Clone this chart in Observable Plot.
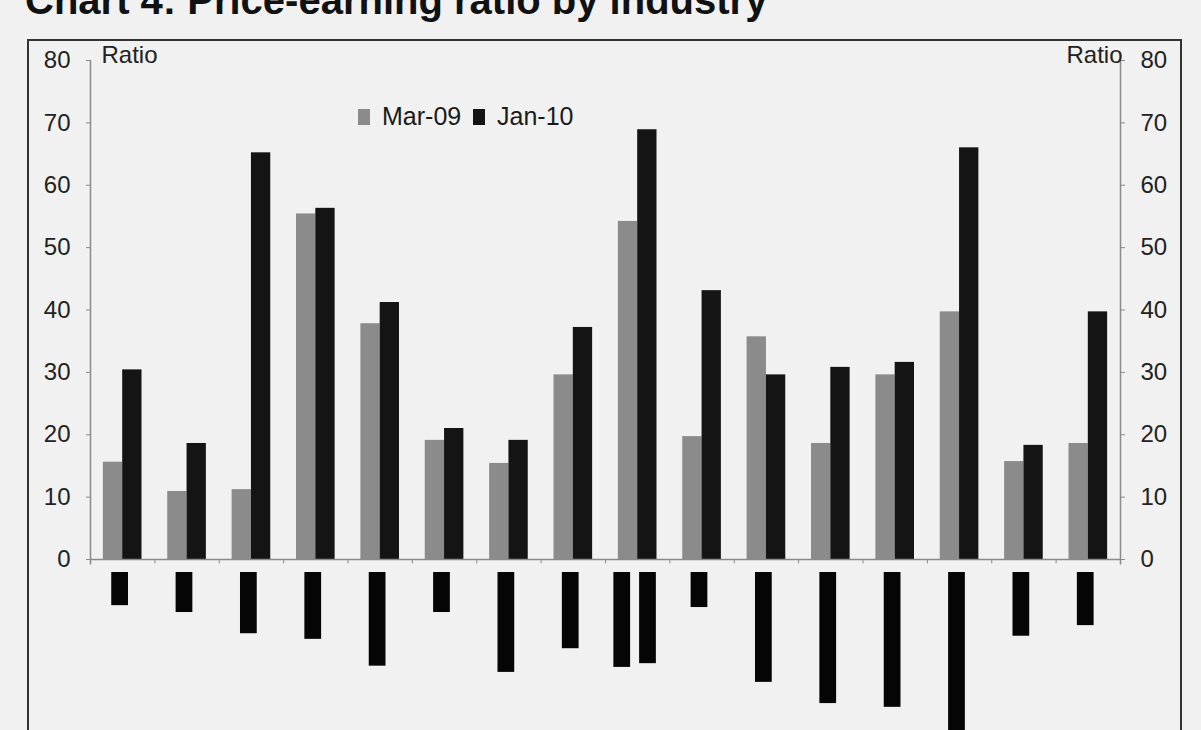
<!DOCTYPE html>
<html>
<head>
<meta charset="utf-8">
<script src="https://cdn.jsdelivr.net/npm/d3@7"></script>
<script src="https://cdn.jsdelivr.net/npm/@observablehq/plot@0.6"></script>
<style>
  html, body { margin: 0; padding: 0; background: #f1f1f1; overflow: hidden; }
  #wrap { position: relative; width: 1201px; height: 730px; overflow: hidden;
          font-family: "Liberation Sans", Arial, sans-serif; color: #1a1a1a; }
  #title { position: absolute; left: 25px; top: -20px; font-size: 40px; line-height: 40px;
           font-weight: bold; white-space: nowrap; color: #111; }
  #box { position: absolute; left: 27px; top: 39px; width: 1151px; height: 720px;
         border: 2.5px solid #333; }
  #chart { position: absolute; left: 0; top: 0; }
  .key { position: absolute; top: 104px; font-size: 25px; line-height: 25px; display: flex; align-items: center; }
  .key i { display: inline-block; width: 12px; height: 16px; margin-right: 12px; }
</style>
</head>
<body>
<div id="wrap">
  <div id="title">Chart 4: Price-earning ratio by industry</div>
  <div id="box"></div>
  <div id="chart"></div>
  <div id="legend"></div>
</div>
<script>
// Industries, left to right
const industry = [1, 2, 3, 4, 5, 6, 7, 8, 9, 10, 11, 12, 13, 14, 15, 16];
// Price-earning ratio per industry
const series = ["Mar-09", "Jan-10"];
const seriesColor = ["#8b8b8b", "#141414"];
const mar09 = [15.6, 10.9, 11.2, 55.4, 37.8, 19.1, 15.4, 29.6, 54.2, 19.7, 35.7, 18.6, 29.6, 39.7, 15.7, 18.6];
const jan10 = [30.4, 18.6, 65.2, 56.3, 41.2, 21.0, 19.1, 37.2, 68.9, 43.1, 29.6, 30.8, 31.6, 66.0, 18.3, 39.7];
// Dark blocks hanging below the axis (one or two per industry), depth in ratio units
const lowerBars = [[7.4], [8.5], [11.9], [12.8], [17.1], [8.5], [18.1], [14.3], [17.3, 16.7], [7.7],
                   [19.7], [23.1], [23.7], [30.0], [12.3], [10.6]];
const yTicks = [0, 10, 20, 30, 40, 50, 60, 70, 80];

const rows = industry.map((k, i) => ({i, mar: mar09[i], jan: jan10[i]}));
const blocks = lowerBars.flatMap((ds, i) =>
  ds.map((depth, j) => ({i, depth, shift: ds.length > 1 ? (j === 0 ? -0.2 : 0.2) : 0})));
const bounds = industry.slice(1).map((k, i) => i + 0.5);

const axisColor = "#8a8a8a";
const textColor = "#222";

const chart = Plot.plot({
  width: 1201,
  height: 730,
  marginLeft: 90,
  marginRight: 81,
  marginTop: 60,
  marginBottom: 0,
  style: {background: "transparent", fontFamily: "'Liberation Sans', Arial, sans-serif", fontSize: "24px", overflow: "visible"},
  x: {type: "linear", domain: [-0.5, industry.length - 0.5], range: [90, 1120], axis: null},
  y: {domain: [0, 80], range: [559, 60], axis: null},
  marks: [
    Plot.rect(rows, {x1: d => d.i - 0.3, x2: d => d.i, y1: 0, y2: "mar", fill: seriesColor[0]}),
    Plot.rect(rows, {x1: d => d.i, x2: d => d.i + 0.3, y1: 0, y2: "jan", fill: seriesColor[1]}),
    Plot.rect(blocks, {x1: d => d.i - 0.04 + d.shift - 0.13, x2: d => d.i - 0.04 + d.shift + 0.13,
                       y1: 0, y2: d => -d.depth, insetTop: 13, fill: "#050505"}),
    Plot.ruleY([0], {stroke: axisColor, strokeWidth: 1.5}),
    Plot.ruleX(bounds, {y1: 0, y2: -0.7, stroke: axisColor}),
    Plot.ruleX([-0.5], {y1: -0.9, y2: 80, stroke: axisColor, strokeWidth: 1.5}),
    Plot.ruleX([industry.length - 0.5], {y1: -0.9, y2: 80, stroke: axisColor, strokeWidth: 1.5}),
    Plot.axisY({anchor: "left", ticks: yTicks, tickSize: 4, tickPadding: 16, stroke: axisColor,
                fill: textColor, fontSize: 24, label: null}),
    Plot.axisY({anchor: "right", ticks: yTicks, tickSize: 4, tickPadding: 16, stroke: axisColor,
                fill: textColor, fontSize: 24, label: null}),
    Plot.text(["Ratio"], {frameAnchor: "top-left", lineAnchor: "top", textAnchor: "start",
                          dx: 11, dy: -15, fill: textColor, fontSize: 24}),
    Plot.text(["Ratio"], {frameAnchor: "top-right", lineAnchor: "top", textAnchor: "end",
                          dx: 2, dy: -15, fill: textColor, fontSize: 24})
  ]
});
document.getElementById("chart").append(chart);

// Legend swatches
const legend = document.getElementById("legend");
const keyLeft = [358, 473];
series.forEach((name, k) => {
  const item = document.createElement("div");
  item.className = "key";
  item.style.left = keyLeft[k] + "px";
  item.innerHTML = `<i style="background:${seriesColor[k]}"></i><span>${name}</span>`;
  legend.append(item);
});
</script>
</body>
</html>
